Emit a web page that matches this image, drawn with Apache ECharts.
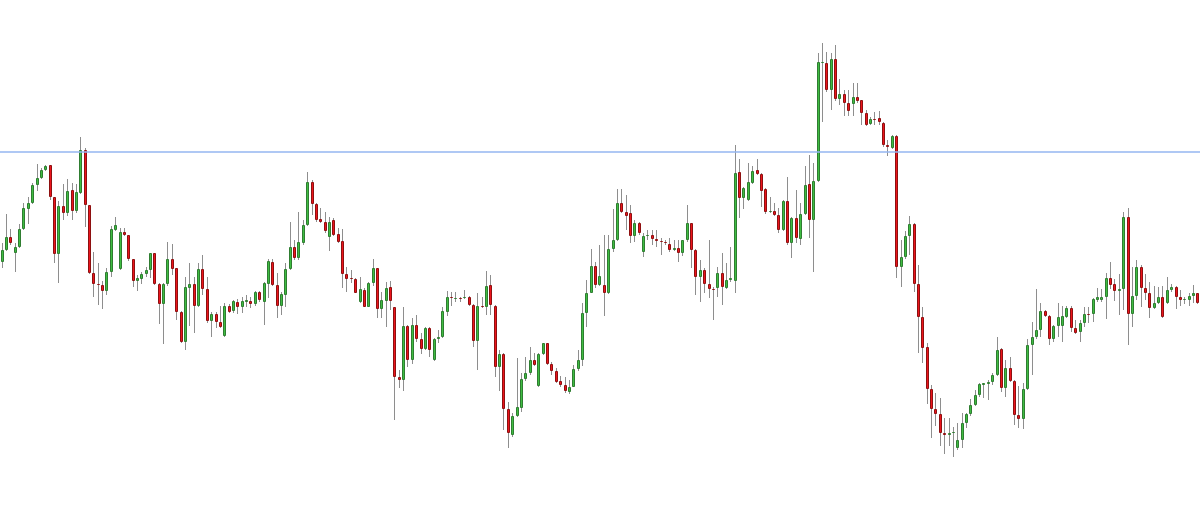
<!DOCTYPE html>
<html>
<head>
<meta charset="utf-8">
<script src="https://cdn.jsdelivr.net/npm/echarts@6/dist/echarts.min.js"></script>
<style>
html,body{margin:0;padding:0;background:#ffffff;}
#chart{width:1200px;height:519px;}
</style>
</head>
<body>
<div id="chart"></div>
<script>
// Price values (arbitrary units; axis hidden in the reference)
const opens = [
257,269,282,266,272,290,310,316,334,341,
349,354,322,265,313,306,329,308,326,369,
314,246,235,234,228,247,289,250,287,284,
260,238,240,245,249,266,235,215,235,260,
251,207,177,231,235,213,250,230,198,205,
197,183,213,208,217,212,217,218,215,227,
217,235,257,234,213,224,250,272,261,276,
294,337,315,300,297,282,299,285,278,245,
241,240,217,229,212,236,251,210,218,232,
212,142,139,193,159,194,180,170,191,159,
180,182,207,222,220,221,221,222,214,178,
213,212,234,213,152,165,110,84,103,111,
140,146,159,133,165,176,155,148,138,134,
127,132,150,159,206,226,253,234,234,226,
270,279,316,307,306,283,296,267,283,284,
280,278,277,275,269,271,266,279,296,269,
242,249,235,230,231,246,231,239,238,347,
321,319,336,349,345,330,307,308,304,289,
318,276,301,280,305,335,299,338,456,456,
429,460,420,425,416,415,422,419,406,395,
400,401,396,374,371,383,252,262,283,295,
235,202,172,130,110,105,86,84,86,71,
79,96,105,114,124,134,135,137,144,170,
131,151,138,104,100,130,174,182,189,208,
203,180,193,193,202,211,191,187,196,205,
205,219,219,222,241,235,228,230,302,205,
223,252,231,226,211,216,222,216,229,232,
222,219,219,223,226
];
const closes = [
269,282,276,272,290,311,316,334,341,349,
353,322,265,313,306,328,308,327,369,314,
246,235,234,228,247,290,294,287,284,260,
238,241,245,249,266,235,215,235,260,250,
207,177,232,235,213,250,230,198,205,197,
192,213,207,218,212,218,219,215,227,219,
236,258,234,213,225,250,272,261,277,294,
337,315,299,297,288,297,284,277,245,240,
240,226,230,212,236,251,210,219,231,218,
142,139,193,159,194,180,170,191,169,180,
182,208,222,221,221,220,222,214,178,213,
212,233,214,152,165,110,86,103,112,140,
146,159,154,165,176,155,148,137,134,128,
132,150,159,206,226,253,234,243,226,270,
279,316,307,303,283,296,286,283,284,280,
278,277,276,269,271,266,279,296,269,242,
249,235,230,229,246,232,239,241,346,321,
331,337,348,345,328,307,308,304,289,318,
276,301,281,305,334,299,338,457,457,429,
460,420,425,416,408,422,418,406,394,400,
399,397,374,372,383,252,262,283,295,235,
202,171,130,110,105,86,84,86,87,79,
96,105,114,124,135,136,137,144,169,131,
151,138,104,100,130,174,182,189,208,203,
180,193,202,203,211,191,186,196,205,204,
220,222,222,241,234,228,230,302,205,223,
252,231,226,211,216,222,202,229,232,222,
219,220,223,226,216
];
const lows = [
251,268,274,247,271,289,295,315,328,340,
348,319,256,236,299,303,299,306,325,292,
245,222,214,210,224,242,288,249,283,258,
232,228,235,242,241,234,195,175,233,244,
199,176,169,193,186,212,224,196,182,191,
191,182,206,206,205,206,212,211,213,217,
194,221,233,201,204,212,249,259,259,274,
293,304,297,296,286,268,283,276,231,227,
236,226,216,212,212,233,201,201,192,209,
99,131,128,152,155,177,165,169,162,158,
176,181,203,213,217,217,220,213,172,149,
211,204,204,142,128,89,71,82,102,107,
138,144,153,132,164,154,144,136,132,126,
125,132,148,153,192,226,231,233,203,225,
267,278,306,289,276,277,284,262,279,274,
272,264,274,267,268,257,263,277,251,224,
217,226,221,199,222,214,230,237,226,301,
310,318,335,344,312,305,306,303,286,288,
274,261,276,274,304,281,247,337,397,427,
409,418,414,403,403,403,416,394,393,394,
394,394,372,363,370,241,232,260,264,227,
166,156,115,81,93,73,65,73,62,69,
71,91,103,113,122,121,119,134,143,127,
122,137,94,91,90,129,144,180,182,202,
174,177,182,177,201,187,185,177,192,196,
197,217,217,200,230,218,204,209,174,192,
219,212,219,201,210,215,201,215,227,210,
213,215,213,216,215
];
const highs = [
276,305,290,276,295,316,322,336,355,351,
354,354,322,318,335,340,336,335,382,371,
314,267,256,238,251,293,302,291,291,284,
260,244,247,252,266,266,236,236,277,275,
251,208,242,256,242,256,264,242,207,207,
213,216,215,219,220,222,224,222,228,228,
237,260,260,246,227,256,297,279,307,299,
347,339,316,311,307,302,301,291,290,252,
249,241,242,231,237,260,251,227,237,238,
212,149,212,194,201,204,186,192,192,181,
189,212,228,227,227,222,229,223,215,226,
222,248,244,214,169,166,117,106,161,146,
162,172,166,166,176,176,157,151,143,142,
139,154,169,216,239,270,257,274,284,284,
310,330,330,324,314,299,297,286,289,289,
289,281,279,281,279,279,279,314,296,270,
259,251,279,232,252,266,256,272,374,360,
332,356,353,360,346,331,322,316,311,319,
342,302,329,316,353,364,356,466,476,467,
466,474,440,429,429,436,436,419,409,402,
407,408,397,379,384,384,279,288,303,296,
254,212,176,134,126,121,101,101,92,96,
106,106,120,129,136,136,139,146,182,171,
159,162,139,133,136,180,197,230,216,209,
204,194,216,213,213,213,199,199,212,212,
221,231,230,246,257,240,245,307,311,252,
259,254,245,237,233,232,233,242,235,233,
229,222,226,234,226
];
const levelLine = 367;

const categories = opens.map((_, i) => String(i + 1));
const ohlc = opens.map((o, i) => [i, o, closes[i], lows[i], highs[i]]);

const UP_FILL = '#3fbd42', UP_EDGE = '#2f7d31';
const DN_FILL = '#ec141c', DN_EDGE = '#8e1010';
const WICK = '#8e8e8e';

function renderItem(params, api) {
  const i = api.value(0);
  const o = api.value(1), c = api.value(2), l = api.value(3), h = api.value(4);
  const pO = api.coord([i, o]);
  const pC = api.coord([i, c]);
  const pL = api.coord([i, l]);
  const pH = api.coord([i, h]);
  const cx = Math.floor(pO[0]);
  const up = c >= o;
  const top = Math.round(Math.min(pO[1], pC[1]));
  const bot = Math.round(Math.max(pO[1], pC[1]));
  return {
    type: 'group',
    children: [
      { type: 'line', shape: { x1: cx + 0.5, y1: pH[1], x2: cx + 0.5, y2: pL[1] },
        style: { stroke: WICK, lineWidth: 1 } },
      { type: 'rect', shape: { x: cx - 0.5, y: top + 0.5, width: 2, height: Math.max(bot - top - 1, 0) },
        style: { fill: up ? UP_FILL : DN_FILL, stroke: up ? UP_EDGE : DN_EDGE, lineWidth: 1 } }
    ]
  };
}

const chart = echarts.init(document.getElementById('chart'), null, { renderer: 'canvas' });
chart.setOption({
  animation: false,
  backgroundColor: '#ffffff',
  grid: { left: 0, right: -1, top: 0, bottom: 0 },
  xAxis: { type: 'category', data: categories, boundaryGap: true, show: false },
  yAxis: { type: 'value', min: 0, max: 519, show: false, splitLine: { show: false } },
  series: [{
    type: 'custom',
    renderItem: renderItem,
    data: ohlc,
    encode: { x: 0, y: [1, 2, 3, 4] },
    clip: true,
    markLine: {
      symbol: 'none',
      silent: true,
      label: { show: false },
      lineStyle: { color: '#94b6f0', width: 1.5, type: 'solid' },
      data: [{ yAxis: levelLine }]
    }
  }]
});
</script>
</body>
</html>
